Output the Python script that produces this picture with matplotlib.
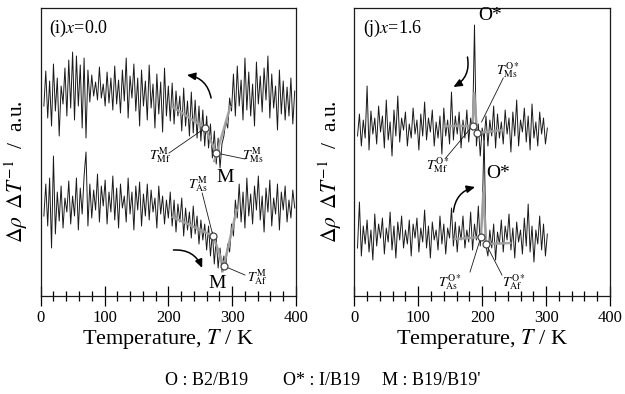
import numpy as np
import matplotlib
matplotlib.use("Agg")
import matplotlib.pyplot as plt
from matplotlib.ticker import MultipleLocator

plt.rcParams['font.family'] = ['Liberation Serif', 'DejaVu Serif']
plt.rcParams['mathtext.fontset'] = 'stix'

# temperatures (K) de las mediciones
temp_i = np.arange(5, 400, 3)
temp_j = np.arange(5, 303, 3)

# (i) x=0.0, enfriamiento (arriba) y calentamiento (abajo)
cool_i = [190, 225, 178, 215, 170, 232, 185, 218, 160, 210, 192, 228, 180, 236, 188, 244,
          176, 240, 190, 231, 168, 238, 158, 226, 194, 221, 200, 214, 196, 229, 198, 212,
          190, 224, 193, 218, 186, 230, 192, 216, 183, 226, 195, 238, 178, 220, 198, 232,
          185, 218, 170, 226, 190, 215, 176, 231, 188, 212, 168, 222, 182, 214, 164, 228,
          180, 210, 175, 213, 172, 205, 180, 200, 165, 208, 170, 195, 160, 204, 163, 196,
          158, 190, 155, 186, 150, 180, 148, 172, 138, 165, 132, 158, 128, 152, 160, 175,
          168, 198, 185, 222, 180, 230, 190, 216, 176, 238, 186, 224, 180, 212, 170, 234,
          192, 220, 184, 228, 196, 240, 178, 222, 188, 210, 166, 226, 182, 215, 176, 209,
          180, 218, 172, 205]
heat_i = [80, 112, 70, 118, 48, 140, 62, 104, 75, 110, 68, 98, 84, 115, 72, 100,
          80, 118, 66, 108, 82, 120, 144, 70, 112, 78, 106, 86, 122, 74, 110, 90,
          116, 72, 104, 84, 120, 76, 108, 68, 112, 88, 100, 74, 118, 82, 104, 66,
          110, 86, 114, 70, 102, 80, 112, 76, 106, 84, 98, 68, 110, 82, 100, 72,
          96, 78, 104, 70, 96, 64, 92, 74, 98, 60, 88, 66, 84, 58, 90, 62,
          80, 52, 76, 56, 72, 46, 70, 40, 64, 32, 58, 28, 48, 24, 40, 30,
          52, 44, 72, 60, 96, 78, 112, 74, 104, 68, 118, 80, 102, 72, 110, 86,
          120, 76, 100, 64, 108, 84, 116, 70, 98, 82, 112, 66, 104, 86, 110, 74,
          96, 78, 106, 88]

# (j) x=1.6
cool_j = [160, 182, 150, 176, 158, 210, 146, 185, 162, 178, 152, 190, 164, 180, 148, 196,
          156, 174, 140, 186, 160, 200, 154, 178, 166, 184, 150, 172, 158, 188, 162, 176,
          146, 182, 160, 194, 156, 178, 164, 186, 150, 174, 158, 180, 142, 188, 160, 176,
          152, 204, 156, 180, 162, 184, 148, 176, 158, 186, 154, 178, 166, 271, 150, 172,
          140, 168, 156, 180, 150, 176, 160, 190, 148, 182, 158, 174, 152, 186, 162, 178,
          144, 184, 160, 196, 150, 176, 164, 188, 154, 180, 146, 192, 158, 174, 150, 184,
          162, 178, 152, 168]
heat_j = [48, 94, 40, 70, 52, 76, 44, 66, 36, 82, 50, 72, 58, 78, 42, 68,
          54, 84, 46, 70, 38, 74, 56, 80, 48, 66, 52, 76, 40, 72, 58, 78,
          44, 68, 54, 86, 48, 70, 38, 74, 56, 66, 46, 80, 52, 72, 42, 68,
          58, 88, 50, 74, 44, 70, 56, 80, 48, 66, 54, 84, 46, 72, 56, 90,
          50, 78, 163, 50, 40, 66, 48, 72, 36, 64, 52, 76, 44, 70, 56, 82,
          46, 68, 38, 74, 54, 66, 42, 78, 50, 92, 44, 70, 34, 66, 52, 80,
          46, 72, 40, 62]

# lineas guia (gris) y puntos de transformacion
fit_i_cool = ([207, 257.6, 275], [189, 168, 143])
fit_i_cool2 = ([272, 297], [135, 189])
fit_i_heat = ([207, 270, 287], [79, 60, 30])
fit_i_heat2 = ([285, 307], [25, 86])
fit_j_cool = ([142, 185, 187.6, 192, 233], [170, 170, 203, 163, 166])
fit_j_heat = ([157, 198, 202, 206, 244], [57, 59, 104, 52, 53])
pts_i = ([257.6, 275, 270, 287], [168, 143, 60, 30])
pts_j = ([185, 192, 198, 206], [170, 163, 59, 52])

fig = plt.figure(figsize=(6.25, 3.94), dpi=100)
ax_i = fig.add_axes([0.0651, 0.2487, 0.4085, 0.7322])
ax_j = fig.add_axes([0.5669, 0.2487, 0.4091, 0.7322])

black = '#1a1a1a'
gris = '#a0a0a0'


def estilo(ax):
    ax.set_xlim(0, 400)
    ax.set_ylim(0, 288.5)
    ax.set_yticks([])
    ax.xaxis.set_major_locator(MultipleLocator(100))
    ax.xaxis.set_minor_locator(MultipleLocator(20))
    ax.tick_params(axis='x', which='major', direction='inout', length=14, width=0.9,
                   labelsize=12, pad=3, top=False)
    ax.tick_params(axis='x', which='minor', direction='inout', length=7, width=0.9, top=False)
    for s in ax.spines.values():
        s.set_linewidth(0.9)
        s.set_color(black)
    ax.set_xlabel('Temperature, $\\mathit{T}$ / K', fontsize=16, labelpad=1)
    ax.set_ylabel('$\\Delta\\rho\\;\\; \\Delta \\mathit{T}^{-1}$  /  a.u.', fontsize=15.5)
    ax.yaxis.set_label_coords(-0.04, 0.43)


def flecha(ax, p0, p1, rad):
    ax.annotate('', xy=p1, xytext=p0,
                arrowprops=dict(arrowstyle='-|>,head_length=0.5,head_width=0.22', color='black',
                                lw=1.1, connectionstyle='arc3,rad=%s' % rad,
                                shrinkA=0, shrinkB=0))


def guia(ax, txt, p_txt, p0, p1, fs=10):
    ax.plot([p0[0], p1[0]], [p0[1], p1[1]], color=black, lw=0.6, zorder=4)
    ax.text(p_txt[0], p_txt[1], txt, fontsize=fs, ha='center', va='center', zorder=5)


for ax in (ax_i, ax_j):
    estilo(ax)

# panel (i)
ax_i.plot(temp_i, cool_i, color=black, lw=0.7)
ax_i.plot(temp_i, heat_i, color=black, lw=0.7)
for f in (fit_i_cool, fit_i_cool2, fit_i_heat, fit_i_heat2):
    ax_i.plot(f[0], f[1], color=gris, lw=1.8, alpha=0.95, zorder=3)
ax_i.plot(pts_i[0], pts_i[1], 'o', ms=5, mfc='white', mec='#444444', mew=0.9, zorder=6)
ax_i.text(13, 268, '(i)$\\mathit{x}$=0.0', fontsize=13, ha='left', va='center')
guia(ax_i, '$\\mathit{T}^{\\rm M}_{\\rm Mf}$', (187, 141), (201, 143), (257.6, 168))
guia(ax_i, '$\\mathit{T}^{\\rm M}_{\\rm Ms}$', (333, 141), (320, 137), (275, 143))
guia(ax_i, '$\\mathit{T}^{\\rm M}_{\\rm As}$', (247, 112), (253, 103), (270, 60))
guia(ax_i, '$\\mathit{T}^{\\rm M}_{\\rm Af}$', (339, 19), (320, 21), (287, 30))
ax_i.text(289, 119, 'M', fontsize=14, ha='center', va='center')
ax_i.text(276, 13, 'M', fontsize=14, ha='center', va='center')
flecha(ax_i, (267, 198), (229, 221), 0.35)
flecha(ax_i, (208, 46), (253, 28), -0.35)

# panel (j)
ax_j.plot(temp_j, cool_j, color=black, lw=0.7)
ax_j.plot(temp_j, heat_j, color=black, lw=0.7)
for f in (fit_j_cool, fit_j_heat):
    ax_j.plot(f[0], f[1], color=gris, lw=1.8, alpha=0.95, zorder=3)
ax_j.plot(pts_j[0], pts_j[1], 'o', ms=5, mfc='white', mec='#444444', mew=0.9, zorder=6)
ax_j.text(13, 268, '(j)$\\mathit{x}$=1.6', fontsize=13, ha='left', va='center')
guia(ax_j, '$\\mathit{T}^{\\rm O*}_{\\rm Ms}$', (241, 226), (233, 218), (199, 174))
guia(ax_j, '$\\mathit{T}^{\\rm O*}_{\\rm Mf}$', (130, 131), (143, 138), (185, 170))
guia(ax_j, '$\\mathit{T}^{\\rm O*}_{\\rm As}$', (150, 14), (181, 24), (198, 59))
guia(ax_j, '$\\mathit{T}^{\\rm O*}_{\\rm Af}$', (249, 14), (231, 21), (206, 52))
ax_j.text(213, 281, 'O*', fontsize=14, ha='center', va='center')
ax_j.text(225, 123, 'O*', fontsize=14, ha='center', va='center')
flecha(ax_j, (177, 239), (155, 209), -0.35)
flecha(ax_j, (155, 84), (189, 109), -0.35)

fig.text(0.264, 0.033, "O : B2/B19", fontsize=13, ha='left', va='center')
fig.text(0.453, 0.033, "O* : I/B19", fontsize=13, ha='left', va='center')
fig.text(0.611, 0.033, "M : B19/B19'", fontsize=13, ha='left', va='center')

fig.savefig('out.png', dpi=100)
